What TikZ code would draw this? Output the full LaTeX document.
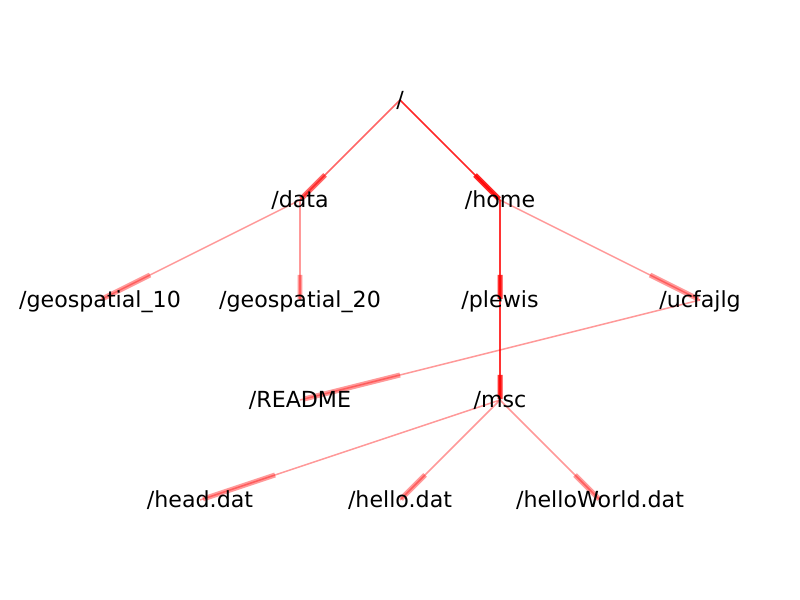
\documentclass[tikz,border=0pt]{standalone}
\usepackage{fontspec}
\setmainfont{DejaVu Sans}
\usetikzlibrary{calc}
\pgfdeclarelayer{background}
\pgfsetlayers{background,main}
\tikzset{
  lbl/.style={inner sep=0pt, text height=14pt, text depth=3.2pt, font=\fontsize{16pt}{19pt}\selectfont},
  edge/.style={draw=red, line width=1.1pt},
  head/.style={draw=red, line width=3.6pt},
}
\newcommand{\myedge}[3]{%
  \draw[edge, draw opacity=#3] (#1.center) -- (#2.center);
  \draw[head, draw opacity=#3] ($(#1.center)!0.75!(#2.center)$) -- ($(#1.center)!0.99!(#2.center)$);
}
\begin{document}
\begin{tikzpicture}[x=0.01in, y=-0.01in]
\useasboundingbox (0,0) rectangle (800,600);
\node[lbl] (root) at (400,100) {/};
\node[lbl] (data) at (300,200) {/data};
\node[lbl] (home) at (500,200) {/home};
\node[lbl] (geo10) at (100,300) {/geospatial\_10};
\node[lbl] (geo20) at (300,300) {/geospatial\_20};
\node[lbl] (plewis) at (500,300) {/plewis};
\node[lbl] (ucf) at (700,300) {/ucfajlg};
\node[lbl] (readme) at (300,400) {/README};
\node[lbl] (msc) at (500,400) {/msc};
\node[lbl] (head) at (200,500) {/head.dat};
\node[lbl] (hello) at (400,500) {/hello.dat};
\node[lbl] (hw) at (600,500) {/helloWorld.dat};
\begin{pgfonlayer}{background}
\myedge{root}{data}{0.6}
\myedge{root}{home}{0.85}
\myedge{data}{geo10}{0.4}
\myedge{data}{geo20}{0.4}
\myedge{home}{plewis}{0.8}
\myedge{home}{ucf}{0.4}
\myedge{ucf}{readme}{0.4}
\myedge{plewis}{msc}{0.8}
\myedge{msc}{head}{0.4}
\myedge{msc}{hello}{0.4}
\myedge{msc}{hw}{0.4}
\end{pgfonlayer}
\end{tikzpicture}
\end{document}
